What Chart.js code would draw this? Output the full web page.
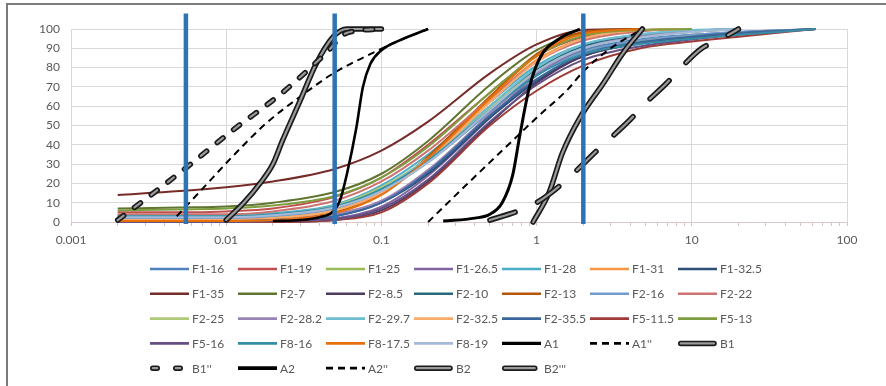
<!DOCTYPE html>
<html>
<head>
<meta charset="utf-8">
<script src="https://cdn.jsdelivr.net/npm/chart.js@4.4.0/dist/chart.umd.min.js"></script>
<style>
    html, body { margin: 0; padding: 0; background: #fff; }
    #wrap { position: relative; width: 886px; height: 386px; overflow: hidden; }
    #frame { position: absolute; left: 6px; top: 3px; width: 900px; height: 400px;
             border-top: 2px solid #7b7b7b; border-left: 2px solid #7b7b7b; pointer-events: none; }
</style>
</head>
<body>
<div id="wrap">
    <canvas id="chart" width="886" height="386"></canvas>
    <div id="frame"></div>
</div>

<script>
    // grain size (mm) used by all the F samples
    var fSizes = [0.002, 0.005, 0.01, 0.02, 0.05, 0.1, 0.2, 0.5, 1, 2, 5, 10, 20, 63];

    // percent passing for each F sample
    var f1_16   = [2, 2, 2.5, 3.5, 8, 17, 32, 58, 77, 89, 95, 97, 98.5, 100];
    var f1_19   = [5, 5, 5.5, 7, 13, 23, 40, 67, 86, 96, 99.5, 100];
    var f1_25   = [1.5, 1.5, 2, 3, 7, 16, 31, 57, 76, 88, 94, 96.5, 98, 100];
    var f1_26_5 = [0.5, 0.5, 0.5, 0.5, 2, 8, 24, 54, 76, 90, 97, 99, 100];
    var f1_28   = [3.5, 3.5, 3.5, 4.5, 9, 19, 35, 62, 81, 92, 97.5, 99, 100];
    var f1_31   = [1, 1, 1, 2, 6, 15, 33, 63, 84, 95, 99.5, 100];
    var f1_32_5 = [0.5, 0.5, 0.5, 1, 3, 10, 25, 54, 73, 86, 93, 95.5, 97.5, 100];
    var f1_35   = [14, 16, 18, 21, 27.5, 37, 52, 77, 92, 99.5, 100];
    var f2_7    = [7, 7.5, 8, 10, 15.5, 25, 42, 71, 89, 98, 100];
    var f2_8_5  = [0, 0, 0, 0, 1, 6, 21, 51, 72, 86, 93, 95.5, 97.5, 100];
    var f2_10   = [2.5, 2.5, 2.5, 3.5, 8, 17, 33, 60, 79, 91, 96.5, 98.5, 100];
    var f2_13   = [1, 1, 1, 1.5, 5, 15, 34, 65, 87, 98.5, 100];
    var f2_16   = [2, 2, 2, 3, 7, 16, 31, 57, 76, 88, 94.5, 97, 98.5, 100];
    var f2_22   = [4, 4, 4, 5.5, 11, 21, 37, 64, 83, 94, 99, 100];
    var f2_25   = [3, 3, 3, 4, 8.5, 18, 33, 59, 78, 90, 96, 98.5, 100];
    var f2_28_2 = [1, 1, 1, 1.5, 4, 11, 27, 56, 77, 90, 96.5, 99, 100];
    var f2_29_7 = [3, 3, 3, 4, 8, 17, 33, 60, 80, 92, 97.5, 99.5, 100];
    var f2_32_5 = [1, 1, 1, 2, 6, 15, 32, 62, 83, 95, 99.5, 100];
    var f2_35_5 = [0.5, 0.5, 0.5, 1, 3, 10, 26, 55, 74, 87, 93.5, 96, 98, 100];
    var f5_11_5 = [0, 0, 0, 0, 1, 5, 20, 50, 68, 81, 90.5, 93.5, 96, 100];
    var f5_13   = [6, 6.5, 7, 8.5, 13.5, 23, 39, 67, 86, 96.5, 99.5, 100];
    var f5_16   = [0, 0, 0, 0.5, 1.5, 7, 22, 52, 71, 84, 91.5, 94.5, 97, 100];
    var f8_16   = [3, 3, 3, 4, 8, 17, 32, 58, 76, 87, 92.5, 95, 97, 100];
    var f8_17_5 = [0.5, 0.5, 0.5, 1, 4.5, 14, 33, 64, 86, 97.5, 100];
    var f8_19   = [2.5, 2.5, 2.5, 3.5, 7.5, 16, 31, 58, 78, 90, 96, 98.5, 100];

    var fNames = ['F1-16', 'F1-19', 'F1-25', 'F1-26.5', 'F1-28', 'F1-31', 'F1-32.5',
                  'F1-35', 'F2-7', 'F2-8.5', 'F2-10', 'F2-13', 'F2-16', 'F2-22',
                  'F2-25', 'F2-28.2', 'F2-29.7', 'F2-32.5', 'F2-35.5', 'F5-11.5', 'F5-13',
                  'F5-16', 'F8-16', 'F8-17.5', 'F8-19'];
    var fValues = [f1_16, f1_19, f1_25, f1_26_5, f1_28, f1_31, f1_32_5,
                   f1_35, f2_7, f2_8_5, f2_10, f2_13, f2_16, f2_22,
                   f2_25, f2_28_2, f2_29_7, f2_32_5, f2_35_5, f5_11_5, f5_13,
                   f5_16, f8_16, f8_17_5, f8_19];
    var fColors = ['#4F81BD', '#C0504D', '#9BBB59', '#8064A2', '#4BACC6', '#F79646', '#2C4D75',
                   '#772C2A', '#5F7530', '#4D3B62', '#276A7C', '#B65708', '#729ACA', '#CD7371',
                   '#AFC97A', '#9983B5', '#6FBDD1', '#F9AB6B', '#3A679C', '#9F3B38', '#7E9D40',
                   '#664F83', '#358EA6', '#E6700B', '#A5B9D8'];

    // envelope curves
    var a1Size = [0.02, 0.03, 0.04, 0.048, 0.054, 0.06, 0.069, 0.076, 0.085, 0.1, 0.13, 0.2];
    var a1Pass = [0.5, 1, 2.5, 5, 11, 25, 49, 70, 82, 89, 94, 100];
    var a1bSize = [0.0048, 0.007, 0.011, 0.018, 0.03, 0.049, 0.08, 0.13, 0.2];
    var a1bPass = [3, 17, 34, 51, 65, 77, 86, 94, 100];
    var b1Size = [0.01, 0.013, 0.0165, 0.02, 0.023, 0.03, 0.038, 0.049, 0.06, 0.1];
    var b1Pass = [1, 10, 20, 30, 42, 63, 82, 96, 100, 100];
    var b1bSize = [0.002, 0.0036, 0.0056, 0.011, 0.023, 0.044, 0.06, 0.1];
    var b1bPass = [1, 16.5, 28.5, 47.5, 67, 87.5, 98, 100];
    var a2Size = [0.25, 0.4, 0.5, 0.6, 0.7, 0.78, 0.9, 1.05, 1.4, 1.9];
    var a2Pass = [0.5, 2, 4, 10, 24, 45, 70, 85, 95, 100];
    var a2bSize = [0.2, 0.35, 0.6, 1, 1.6, 2, 3, 4.8];
    var a2bPass = [0, 19, 37, 54, 69, 78, 90, 100];
    var b2Size = [0.95, 1.2, 1.47, 1.9, 2.7, 3.6, 4.8];
    var b2Pass = [0, 15, 36, 54, 72, 87.5, 100];
    var b2cSize = [0.5, 0.78, 1, 1.47, 2.45, 4, 5.1, 6.9, 8.3, 11.6, 14.8, 20];
    var b2cPass = [1, 6, 10, 20, 37, 53, 62, 72, 79, 90, 94, 100];

    // fraction boundaries (blue verticals)
    var boundarySizes = [0.0055, 0.05, 2];
    var boundaryRange = [-1, 108];

    var xDecades = [0.001, 0.01, 0.1, 1, 10, 100];
    var xTickLabels = ['0.001', '0.01', '0.1', '1', '10', '100'];

    function toPoints(xs, ys) {
        return ys.map(function (y, i) { return { x: xs[i], y: y }; });
    }

    var datasets = [];
    var legendItems = [];

    fValues.forEach(function (vals, i) {
        datasets.push({
            label: fNames[i], data: toPoints(fSizes, vals),
            borderColor: fColors[i], borderWidth: 2
        });
        legendItems.push({ label: fNames[i], color: fColors[i], width: 2.6 });
    });

    function solid(label, xs, ys, width, dash) {
        datasets.push({
            label: label, data: toPoints(xs, ys),
            borderColor: '#000', borderWidth: width, borderDash: dash || []
        });
        legendItems.push({ label: label, color: '#000', width: width + 0.8, dash: dash });
    }

    function hollow(label, xs, ys, dash, legendDash) {
        datasets.push({
            label: label, data: toPoints(xs, ys),
            borderColor: '#1a1a1a', borderWidth: 5.5, borderDash: dash || [], borderCapStyle: 'round'
        });
        datasets.push({
            label: label + ' inner', data: toPoints(xs, ys),
            borderColor: '#9a9a9a', borderWidth: 2.2, borderDash: dash || [], borderCapStyle: 'round'
        });
        legendItems.push({ label: label, hollow: true, dash: legendDash || dash });
    }

    solid('A1', a1Size, a1Pass, 2.6);
    solid("A1''", a1bSize, a1bPass, 2, [7, 5]);
    hollow('B1', b1Size, b1Pass);
    hollow("B1''", b1bSize, b1bPass, [7.5, 13.5], [4.5, 18.5]);
    solid('A2', a2Size, a2Pass, 3);
    solid("A2''", a2bSize, a2bPass, 2, [7, 5]);
    hollow('B2', b2Size, b2Pass);
    hollow("B2'''", b2cSize, b2cPass, [26.5, 24.5], [30, 20]);

    boundarySizes.forEach(function (s) {
        datasets.push({
            label: 'boundary', data: [{ x: s, y: boundaryRange[0] }, { x: s, y: boundaryRange[1] }],
            borderColor: '#2E74B5', borderWidth: 4.5, cubicInterpolationMode: 'default', tension: 0
        });
    });

    // later series are painted on top, like the original
    datasets.forEach(function (d, i) {
        d.order = datasets.length - i;
        d.clip = false;
        d.pointRadius = 0;
        d.fill = false;
        if (!d.cubicInterpolationMode) d.cubicInterpolationMode = 'monotone';
    });

    var gridLegend = {
        id: 'gridLegend',
        afterDraw: function (chart) {
            var ctx = chart.ctx;
            ctx.save();
            ctx.font = '12px Lato';
            ctx.textBaseline = 'middle';
            legendItems.forEach(function (item, i) {
                var x = 150 + (i % 7) * 88;
                var y = 269 + Math.floor(i / 7) * 24.8;
                if (item.hollow) {
                    ctx.lineCap = 'round';
                    ctx.setLineDash(item.dash || []);
                    ctx.beginPath(); ctx.moveTo(x + 2.75, y); ctx.lineTo(x + 36, y);
                    ctx.strokeStyle = '#1a1a1a'; ctx.lineWidth = 5.5; ctx.stroke();
                    ctx.beginPath(); ctx.moveTo(x + 2.75, y); ctx.lineTo(x + 36, y);
                    ctx.strokeStyle = '#9a9a9a'; ctx.lineWidth = 2.2; ctx.stroke();
                } else {
                    ctx.lineCap = 'butt';
                    ctx.setLineDash(item.dash || []);
                    ctx.beginPath(); ctx.moveTo(x, y); ctx.lineTo(x + 39, y);
                    ctx.strokeStyle = item.color; ctx.lineWidth = item.width; ctx.stroke();
                }
                ctx.setLineDash([]);
                ctx.fillStyle = '#595959';
                ctx.fillText(item.label, x + 42, y + 0.5);
            });
            ctx.restore();
        }
    };

    Chart.defaults.font.family = 'Lato';
    Chart.defaults.font.size = 12;
    Chart.defaults.color = '#595959';

    var ctx = document.getElementById('chart').getContext('2d');
    var chart = new Chart(ctx, {
        type: 'line',
        data: { datasets: datasets },
        options: {
            responsive: false,
            animation: false,
            devicePixelRatio: 1,
            layout: { padding: { left: 0, right: 39, top: 29, bottom: 134 } },
            plugins: { legend: { display: false }, tooltip: { enabled: false } },
            scales: {
                x: {
                    type: 'logarithmic',
                    min: 0.001,
                    max: 100,
                    afterBuildTicks: function (scale) {
                        var ticks = [];
                        xDecades.forEach(function (d, i) {
                            ticks.push({ value: d });
                            if (i < xDecades.length - 1) {
                                for (var k = 2; k <= 9; k++) ticks.push({ value: d * k });
                            }
                        });
                        scale.ticks = ticks;
                    },
                    afterFit: function (scale) { scale.height = 30; },
                    ticks: {
                        autoSkip: false,
                        maxRotation: 0,
                        padding: 7,
                        color: '#595959',
                        callback: function (value) {
                            var i = xDecades.indexOf(value);
                            return i >= 0 ? xTickLabels[i] : '';
                        }
                    },
                    grid: {
                        color: function (c) {
                            return c.tick && xDecades.indexOf(c.tick.value) >= 0 ? '#d9d9d9' : 'rgba(0,0,0,0)';
                        },
                        tickColor: '#d6c2c2',
                        tickLength: 4
                    },
                    border: { color: '#dcc8c8', width: 1 }
                },
                y: {
                    min: 0,
                    max: 100,
                    afterFit: function (scale) { scale.width = 71; },
                    ticks: { stepSize: 10, padding: 11, color: '#595959' },
                    grid: { color: '#d9d9d9', drawTicks: false },
                    border: { display: false }
                }
            }
        },
        plugins: [gridLegend]
    });
</script>
</body>
</html>
